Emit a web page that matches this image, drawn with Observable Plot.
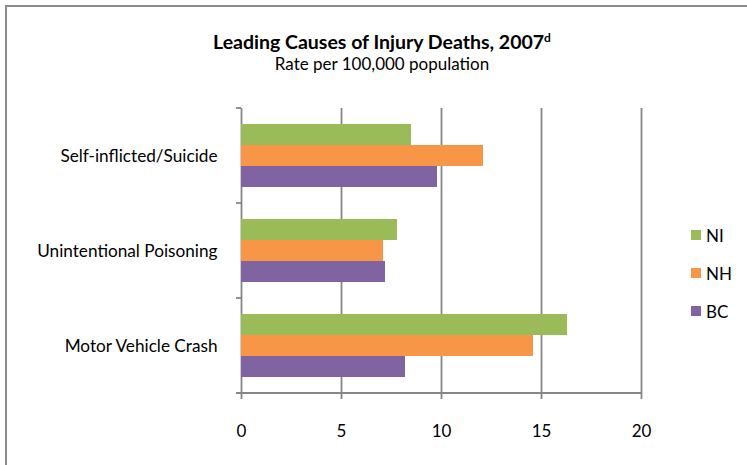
<!DOCTYPE html>
<html>
<head>
<meta charset="utf-8">
<script src="https://cdn.jsdelivr.net/npm/d3@7"></script>
<script src="https://cdn.jsdelivr.net/npm/@observablehq/plot@0.6"></script>
<style>
  html, body { margin: 0; padding: 0; background: #fff; }
  #wrap { position: relative; width: 747px; height: 465px; overflow: hidden; font-family: Lato, "Open Sans", sans-serif; color: #000; }
  #frame { position: absolute; left: 5px; top: 5px; width: 800px; height: 520px; border-left: 2px solid #8c8c8c; border-top: 2px solid #8c8c8c; box-sizing: border-box; }
  #titles { position: absolute; left: 0; top: 31px; width: 764px; text-align: center; }
  #title { font-weight: bold; font-size: 19.5px; line-height: 22px; }
  #title sup { font-size: 12px; vertical-align: 7px; line-height: 0; }
  #subtitle { font-size: 17px; line-height: 20px; margin-top: 1px; }
  #chart { position: absolute; left: 0; top: 0; }
  #legend { position: absolute; left: 691px; top: 225px; font-size: 17px; }
  .item { display: flex; align-items: center; height: 20px; margin-bottom: 18px; }
  .swatch { width: 10px; height: 10px; margin-right: 5px; }
</style>
</head>
<body>
<div id="wrap">
  <div id="frame"></div>
  <div id="chart"></div>
  <div id="titles">
    <div id="title">Leading Causes of Injury Deaths, 2007<sup>d</sup></div>
    <div id="subtitle">Rate per 100,000 population</div>
  </div>
  <div id="legend"></div>
</div>
<script>
// Injury death rates per 100,000 population, 2007
const causes = ["Self-inflicted/Suicide", "Unintentional Poisoning", "Motor Vehicle Crash"];
const series = ["NI", "NH", "BC"];
const niValues = [8.5, 7.8, 16.3];
const nhValues = [12.1, 7.1, 14.6];
const bcValues = [9.8, 7.2, 8.2];
const seriesColors = ["#9BBB59", "#F79646", "#8064A2"];
const xTicks = [0, 5, 10, 15, 20];

const valuesBySeries = {NI: niValues, NH: nhValues, BC: bcValues};
const rows = [];
causes.forEach((cause, i) => {
  series.forEach((s) => rows.push({cause, series: s, value: valuesBySeries[s][i]}));
});

const axisGray = "#868686";

const chart = Plot.plot({
  width: 747,
  height: 465,
  marginLeft: 241,
  marginRight: 106,
  marginTop: 107,
  marginBottom: 71,
  style: {fontFamily: "Lato, 'Open Sans', sans-serif", background: "transparent", color: "#000"},
  x: {domain: [0, 20], label: null},
  fy: {domain: causes, padding: 0, label: null},
  y: {domain: series, paddingInner: 0, paddingOuter: 0.746, axis: null},
  color: {domain: series, range: seriesColors},
  marks: [
    Plot.gridX({ticks: xTicks, stroke: axisGray, strokeOpacity: 1, strokeWidth: 1.8}),
    Plot.barX(rows, {x: "value", y: "series", fy: "cause", fill: "series"}),
    Plot.axisX({ticks: xTicks, tickSize: 6, tickPadding: 25, fontSize: 17, stroke: axisGray, strokeWidth: 1.8, fill: "#000", label: null}),
    Plot.axisFy({anchor: "left", tickSize: 0, tickPadding: 24, fontSize: 17.2, fill: "#000", label: null})
  ]
});

// Baseline along the bottom and category boundary ticks on the value axis
const fy = chart.scale("fy");
const xs = chart.scale("x");
const x0 = xs.apply(0);
const xEnd = xs.apply(20);
const bounds = causes.map((c) => fy.apply(c)).concat([fy.apply(causes[causes.length - 1]) + fy.bandwidth]);
const svg = d3.select(chart);
const deco = svg.append("g").attr("stroke", axisGray).attr("stroke-width", 1.8);
deco.append("line").attr("x1", x0 - 5).attr("x2", xEnd).attr("y1", bounds[bounds.length - 1]).attr("y2", bounds[bounds.length - 1]);
deco.selectAll(".b").data(bounds.slice(0, -1)).join("line")
  .attr("x1", x0 - 5).attr("x2", x0).attr("y1", (d) => d).attr("y2", (d) => d);

document.getElementById("chart").append(chart);

// Legend
const legend = d3.select("#legend");
series.forEach((s, i) => {
  const item = legend.append("div").attr("class", "item");
  item.append("div").attr("class", "swatch").style("background", seriesColors[i]);
  item.append("span").text(s);
});
</script>
</body>
</html>
